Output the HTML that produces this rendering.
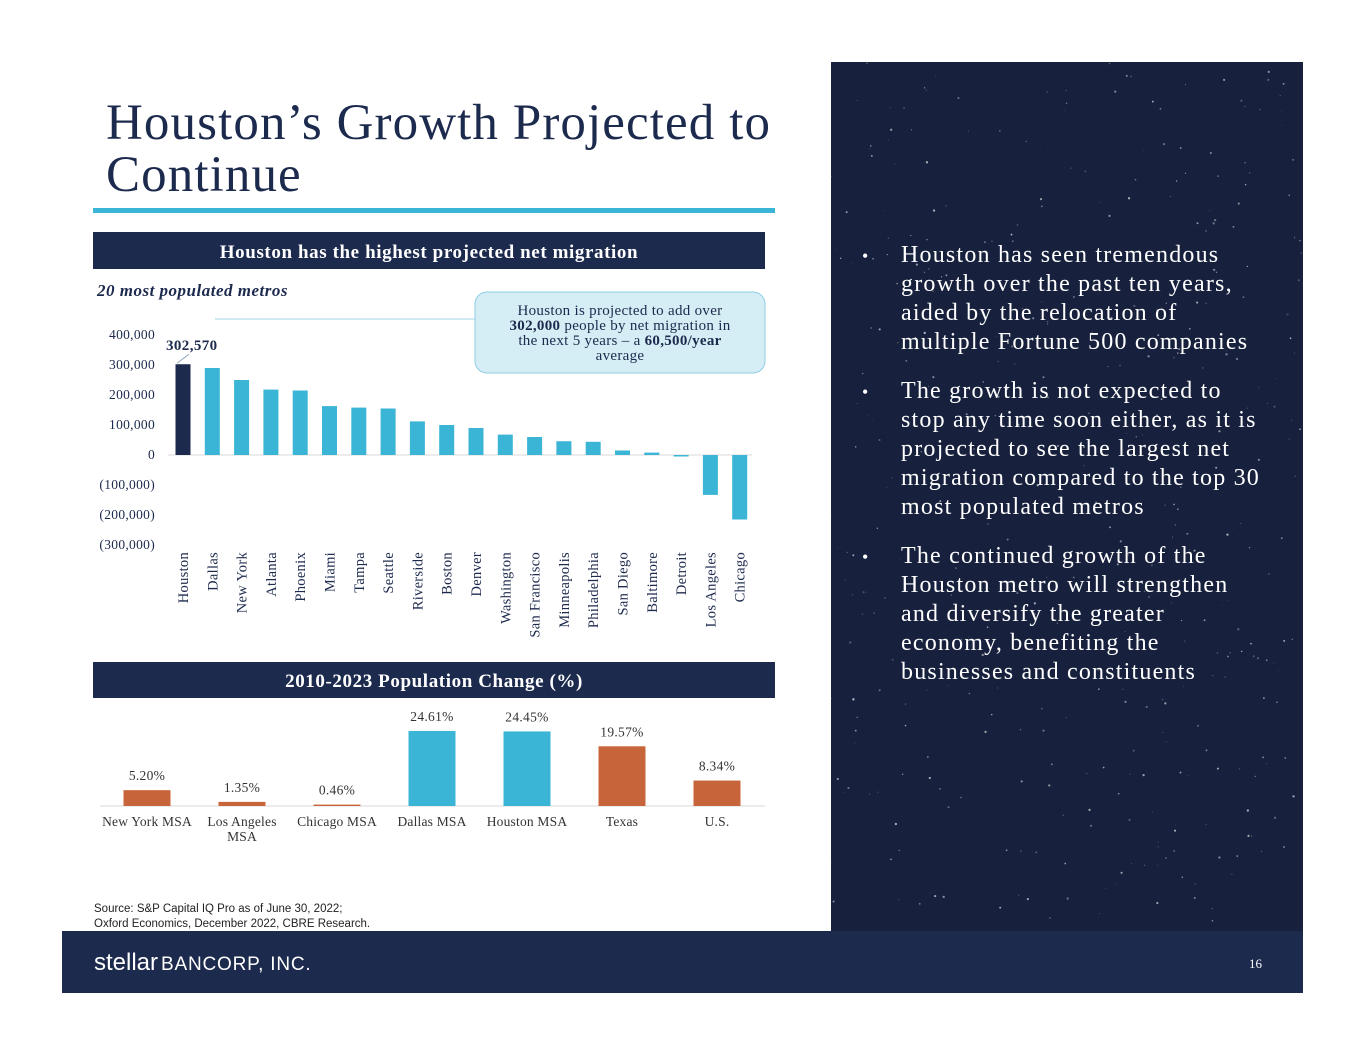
<!DOCTYPE html>
<html><head><meta charset="utf-8"><style>
html,body{margin:0;padding:0;background:#fff;}
svg{display:block;}
text{font-family:"Liberation Serif",serif;}
</style></head><body>
<svg id="s" width="1365" height="1055" viewBox="0 0 1365 1055" xmlns="http://www.w3.org/2000/svg">
<rect x="0" y="0" width="1365" height="1055" fill="#fff"/>
<rect x="831" y="62" width="472" height="869" fill="#17213d"/>
<g id="stars"></g>
<g fill="#fff" font-size="24" letter-spacing="1.2">
  <text x="862" y="262" font-size="18">•</text>
  <text x="901" y="262"><tspan x="901">Houston has seen tremendous</tspan><tspan x="901" dy="29">growth over the past ten years,</tspan><tspan x="901" dy="29">aided by the relocation of</tspan><tspan x="901" dy="29">multiple Fortune 500 companies</tspan></text>
  <text x="862" y="398" font-size="18">•</text>
  <text x="901" y="398"><tspan x="901">The growth is not expected to</tspan><tspan x="901" dy="29">stop any time soon either, as it is</tspan><tspan x="901" dy="29">projected to see the largest net</tspan><tspan x="901" dy="29">migration compared to the top 30</tspan><tspan x="901" dy="29">most populated metros</tspan></text>
  <text x="862" y="563" font-size="18">•</text>
  <text x="901" y="563"><tspan x="901">The continued growth of the</tspan><tspan x="901" dy="29">Houston metro will strengthen</tspan><tspan x="901" dy="29">and diversify the greater</tspan><tspan x="901" dy="29">economy, benefiting the</tspan><tspan x="901" dy="29">businesses and constituents</tspan></text>
</g>
<text x="106" y="139" font-size="51" letter-spacing="1.1" fill="#1c2a4d"><tspan x="106">Houston’s Growth Projected to</tspan><tspan x="106" dy="52">Continue</tspan></text>
<rect x="93" y="208" width="682" height="5" fill="#3bb5d6"/>
<rect x="93" y="232" width="672" height="37" fill="#1c2a4d"/>
<text x="429" y="258" font-size="19" letter-spacing="0.6" font-weight="bold" fill="#fff" text-anchor="middle">Houston has the highest projected net migration</text>
<text x="97" y="296" font-size="17" letter-spacing="0.5" font-weight="bold" font-style="italic" fill="#1c2a4d">20 most populated metros</text>
<line x1="215" y1="319" x2="475" y2="319" stroke="#bde3ee" stroke-width="1.5"/>
<rect x="475" y="292" width="290" height="81" rx="12" fill="#d5eef5" stroke="#8fcde0" stroke-width="1"/>
<text font-size="15" letter-spacing="0.3" fill="#1c2a4d" text-anchor="middle"><tspan x="620" y="315">Houston is projected to add over</tspan><tspan x="620" dy="15"><tspan font-weight="bold">302,000</tspan> people by net migration in</tspan><tspan x="620" dy="15">the next 5 years – a <tspan font-weight="bold">60,500/year</tspan></tspan><tspan x="620" dy="15">average</tspan></text>
<g id="chart1"></g>
<rect x="93" y="662" width="682" height="36" fill="#1c2a4d"/>
<text x="434" y="687" font-size="19" letter-spacing="0.6" font-weight="bold" fill="#fff" text-anchor="middle">2010-2023 Population Change (%)</text>
<g id="chart2"></g>
<text font-size="11.5" fill="#222" style="font-family:'Liberation Sans',sans-serif"><tspan x="94" y="912">Source: S&amp;P Capital IQ Pro as of June 30, 2022;</tspan><tspan x="94" y="927">Oxford Economics, December 2022, CBRE Research.</tspan></text>
<rect x="62" y="931" width="1241" height="62" fill="#1c2a4d"/>
<text x="94" y="970" fill="#fff" style="font-family:'Liberation Sans',sans-serif"><tspan font-size="24">stellar</tspan><tspan font-size="19" dx="3" letter-spacing="0.8">BANCORP, INC.</tspan></text>
<text x="1262" y="968" font-size="13" fill="#fff" text-anchor="end">16</text>
</svg>
<script>
const NS="http://www.w3.org/2000/svg";
const metros=["Houston","Dallas","New York","Atlanta","Phoenix","Miami","Tampa","Seattle","Riverside","Boston","Denver","Washington","San Francisco","Minneapolis","Philadelphia","San Diego","Baltimore","Detroit","Los Angeles","Chicago"];
const migration=[302570,290000,250000,218000,215000,163000,158000,155000,112000,100000,90000,68000,60000,46000,44000,15000,8000,-5000,-133000,-215000];
const yTicks=[400000,300000,200000,100000,0,-100000,-200000,-300000];
const yTickLabels=["400,000","300,000","200,000","100,000","0","(100,000)","(200,000)","(300,000)"];
const popCats=[["New York MSA"],["Los Angeles","MSA"],["Chicago MSA"],["Dallas MSA"],["Houston MSA"],["Texas"],["U.S."]];
const popVals=[5.20,1.35,0.46,24.61,24.45,19.57,8.34];
const popLabels=["5.20%","1.35%","0.46%","24.61%","24.45%","19.57%","8.34%"];
const popHighlight=[false,false,false,true,true,false,false];

function mk(tag,attrs,parent,txt){const e=document.createElementNS(NS,tag);for(const k in attrs)e.setAttribute(k,attrs[k]);if(txt!==undefined)e.textContent=txt;parent.appendChild(e);return e;}

const c1=document.getElementById('chart1');
const y1=v=>455-v*0.0003;
const x1=i=>183+i*29.3;
yTicks.forEach((t,i)=>{const e=mk('text',{x:155,y:y1(t)+4,'font-size':13.5,'letter-spacing':0.3,fill:'#1c2a4d','text-anchor':'end'},c1,yTickLabels[i]);

});
mk('line',{x1:168,y1:y1(0),x2:752,y2:y1(0),stroke:'#d9d9d9','stroke-width':1},c1);
migration.forEach((v,i)=>{const top=Math.min(y1(v),y1(0)),h=Math.abs(y1(v)-y1(0));
const r=mk('rect',{x:x1(i)-7.5,y:top,width:15,height:Math.max(h,1),fill:i===0?'#1c2a4d':'#3bb5d6'},c1);


const l=mk('text',{transform:`translate(${x1(i)+5},${552}) rotate(-90)`,'font-size':14.5,'letter-spacing':0.3,fill:'#1c2a4d','text-anchor':'end'},c1,metros[i]);

});
const lab=mk('text',{x:x1(0)-17,y:y1(migration[0])-14,'font-size':15,'letter-spacing':0.4,'font-weight':'bold',fill:'#1c2a4d'},c1,migration[0].toLocaleString('en-US'));


mk('line',{x1:x1(0)-6,y1:y1(migration[0])-1,x2:x1(0)+6,y2:y1(migration[0])-10,stroke:'#8fa3b8','stroke-width':1},c1);

const c2=document.getElementById('chart2');
const y2=v=>806-v*3.05;
const x2=i=>147+i*95;
mk('line',{x1:100,y1:806,x2:765,y2:806,stroke:'#d9d9d9','stroke-width':1},c2);
popVals.forEach((v,i)=>{const r=mk('rect',{x:x2(i)-23.5,y:y2(v),width:47,height:806-y2(v),fill:popHighlight[i]?'#3bb5d6':'#c8643a'},c2);


const t=mk('text',{x:x2(i),y:y2(v)-10,'font-size':13.5,'letter-spacing':0.3,fill:'#333','text-anchor':'middle'},c2,popLabels[i]);


popCats[i].forEach((line,j)=>{const c=mk('text',{x:x2(i),y:826+j*15,'font-size':13.5,'letter-spacing':0.2,fill:'#333','text-anchor':'middle'},c2,line);

});});

const st=document.getElementById('stars');let seed=7;
function rnd(){seed=(seed*16807)%2147483647;return seed/2147483647;}
for(let k=0;k<420;k++){mk('circle',{cx:831+rnd()*472,cy:62+rnd()*869,r:(rnd()*0.9+0.3).toFixed(2),fill:'#fff',opacity:(rnd()*0.5+0.15).toFixed(2)},st);}
</script>
</body></html>
